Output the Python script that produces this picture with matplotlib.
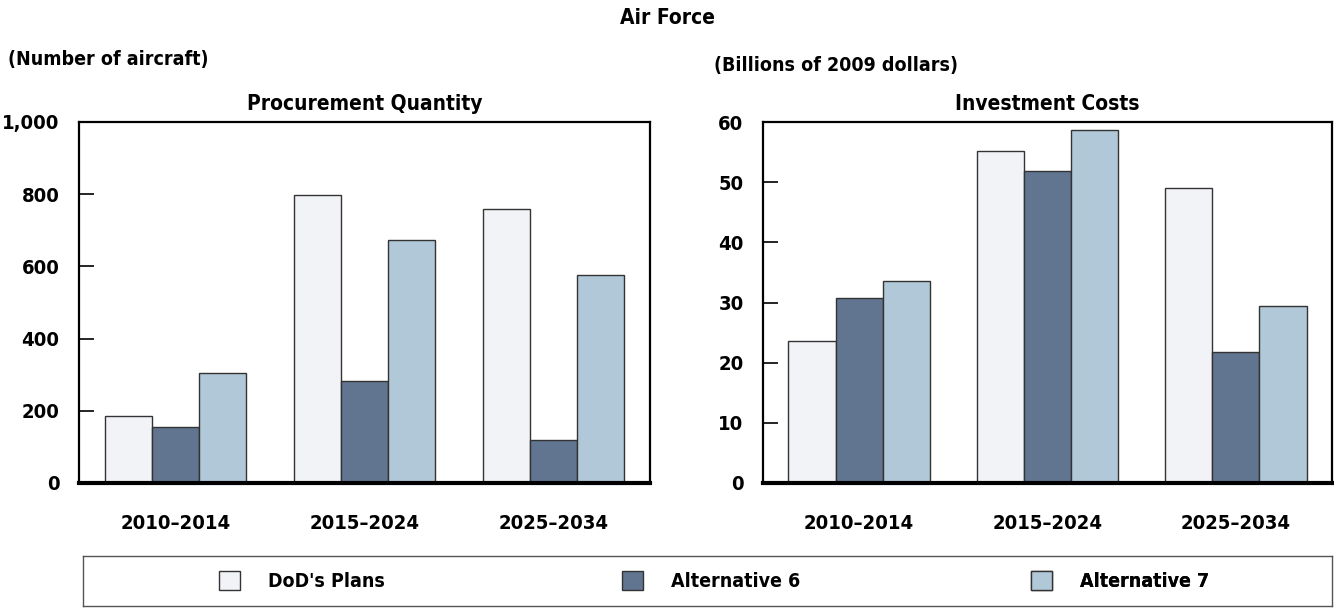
import numpy as np
import matplotlib
matplotlib.use("Agg")
import matplotlib.pyplot as plt
from matplotlib.patches import Patch

plt.rcParams["font.family"] = ["DejaVu Sans"]
plt.rcParams["font.stretch"] = "condensed"
plt.rcParams["font.weight"] = "bold"

periods = ["2010\u20132014", "2015\u20132024", "2025\u20132034"]
series = ["DoD's Plans", "Alternative 6", "Alternative 7"]
colors = ["#f1f3f7", "#617591", "#b0c8d7"]

# procurement quantity (number of aircraft)
qty_dod = [185, 798, 758]
qty_alt6 = [155, 282, 120]
qty_alt7 = [304, 674, 576]

# investment costs (billions of 2009 dollars)
cost_dod = [23.6, 55.1, 49.1]
cost_alt6 = [30.8, 51.8, 21.7]
cost_alt7 = [33.6, 58.7, 29.4]

W, H = 1334, 609
fig = plt.figure(figsize=(W / 100, H / 100), dpi=100)


def panel(rect, vals, ymax, step, title, fmt):
    ax = fig.add_axes(rect)
    x = np.arange(len(periods))
    bw = 0.25
    for k, (v, c) in enumerate(zip(vals, colors)):
        ax.bar(x + (k - 1) * bw, v, bw, color=c, edgecolor="#333333", lw=1.0, zorder=2)
    ax.set_xlim(-0.51, 2.51)
    ax.set_ylim(0, ymax)
    ticks = np.arange(0, ymax + step / 2, step)
    ax.set_yticks(ticks)
    ax.set_yticklabels([fmt(t) for t in ticks])
    ax.set_xticks(x)
    ax.set_xticklabels(periods)
    ax.tick_params(axis="x", length=0, pad=22, labelsize=14.5)
    ax.tick_params(axis="y", direction="in", length=11, width=1.2, pad=14, labelsize=14.5)
    for s in ["left", "right", "top"]:
        ax.spines[s].set_linewidth(1.6)
    ax.spines["bottom"].set_linewidth(3.0)
    ax.spines["bottom"].set_zorder(3)
    ax.set_title(title, fontsize=15, fontweight="bold", pad=9)
    return ax


bot = 1 - 483 / H
hgt = (483 - 122) / H
panel([79 / W, bot, (650 - 79) / W, hgt], [qty_dod, qty_alt6, qty_alt7],
      1000, 200, "Procurement Quantity", lambda t: f"{int(t):,}")
panel([763 / W, bot, (1332 - 763) / W, hgt], [cost_dod, cost_alt6, cost_alt7],
      60, 10, "Investment Costs", lambda t: f"{int(t)}")

fig.text(0.5, 1 - 18 / H, "Air Force", ha="center", va="center", fontsize=15, fontweight="bold")
fig.text(8 / W, 1 - 59 / H, "(Number of aircraft)", ha="left", va="center", fontsize=14)
fig.text(714 / W, 1 - 65 / H, "(Billions of 2009 dollars)", ha="left", va="center", fontsize=14)

# legend strip
lx0, lx1 = 83, 1332
lax = fig.add_axes([lx0 / W, 1 - 606 / H, (lx1 - lx0) / W, 50 / H])
lax.set_xticks([]); lax.set_yticks([])
for s in lax.spines.values():
    s.set_color("#555555"); s.set_linewidth(1.0)
for name, c, px in zip(series, colors, [219, 622, 1031]):
    leg = lax.legend(handles=[Patch(facecolor=c, edgecolor="#333333", lw=1.0, label=name)],
                     loc="center left", bbox_to_anchor=((px - lx0) / (lx1 - lx0), 0.5),
                     frameon=False, fontsize=14, handlelength=1.1, handleheight=1.1,
                     handletextpad=1.4, borderpad=0, borderaxespad=0)
    lax.add_artist(leg)

fig.savefig("out.png", dpi=100)
